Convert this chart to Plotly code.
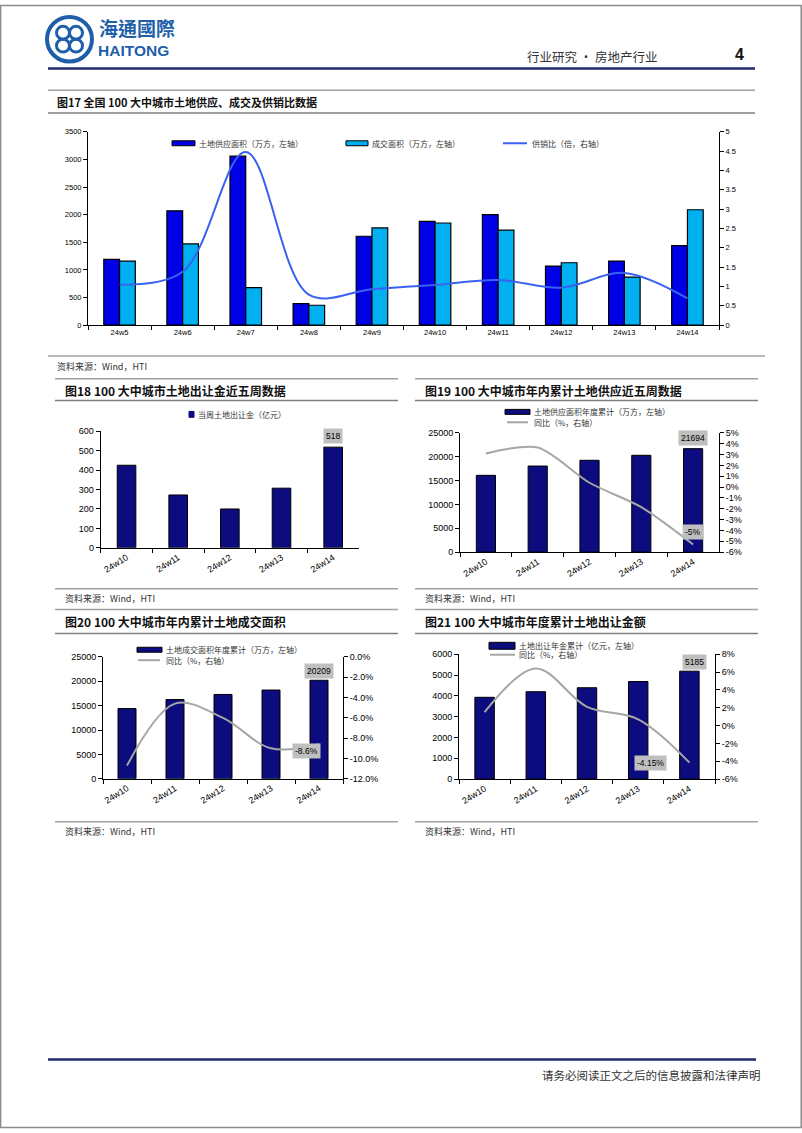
import plotly.graph_objects as go

W, H = 802, 1133
def px(x): return x / W
def py(y): return 1 - y / H

# ---------------- data ----------------
weeks17 = ["24w5", "24w6", "24w7", "24w8", "24w9", "24w10", "24w11", "24w12", "24w13", "24w14"]
supply17 = [1190, 2070, 3060, 390, 1610, 1880, 2000, 1070, 1160, 1440]
deal17 = [1160, 1470, 680, 360, 1760, 1850, 1720, 1130, 870, 2090]
ratio17 = [1.05, 1.38, 4.48, 0.79, 0.93, 1.04, 1.17, 0.97, 1.35, 0.69]

weeks5 = ["24w10", "24w11", "24w12", "24w13", "24w14"]
premium18 = [425, 272, 200, 307, 518]
supply_cum19 = [16100, 18050, 19250, 20300, 21694]
supply_yoy19 = [3.1, 3.65, 0.4, -1.85, -5.3]
deal_cum20 = [14400, 16250, 17300, 18200, 20209]
deal_yoy20 = [-10.7, -4.6, -6.0, -9.0, -8.6]
premium_cum21 = [3930, 4200, 4390, 4690, 5185]
premium_yoy21 = [1.5, 6.4, 2.1, 0.7, -4.15]

# ---------------- styles ----------------
NAVY = "#0C0C7E"
BLUE = "#0000E6"
CYAN = "#00B0F0"
LBLUE = "#3A62F0"
GRAY = "#A6A6A6"
NUM = "Liberation Sans, Arial, sans-serif"
CJK = "Noto Sans CJK SC, sans-serif"

def xax(d0, d1, anchor, angle=0, size=8.5):
    return dict(domain=[px(d0), px(d1)], anchor=anchor, type="category",
                showline=True, linecolor="black", linewidth=1,
                ticks="outside", ticklen=4, tickcolor="black", tickson="boundaries",
                tickangle=angle, showgrid=False, zeroline=False, fixedrange=True,
                tickfont=dict(family=NUM, size=size, color="black"))

def pct_ticks(lo, hi, step, fmt):
    vals = list(range(lo, hi + 1, step))
    return vals, [(fmt % v) for v in vals]

def yax(y0, y1, anchor, rng, dtick, side="left", overlaying=None, ticks=None, size=8.5):
    d = dict(anchor=anchor, range=rng, side=side,
             showline=True, linecolor="black", linewidth=1,
             ticks="outside", ticklen=4, tickcolor="black",
             showgrid=False, zeroline=False, fixedrange=True,
             tickfont=dict(family=NUM, size=size, color="black"))
    if ticks:
        d["tickmode"] = "array"
        d["tickvals"], d["ticktext"] = ticks
    else:
        d["dtick"] = dtick
        d["tickformat"] = "~r"
    if overlaying:
        d["overlaying"] = overlaying
    else:
        d["domain"] = [py(y0), py(y1)]
    return d

fig = go.Figure()

# ---------- Fig 17 ----------
fig.add_trace(go.Bar(x=weeks17, y=supply17, xaxis="x", yaxis="y", width=0.25, offset=-0.25,
                     marker=dict(color=BLUE, line=dict(color="black", width=1.2))))
fig.add_trace(go.Bar(x=weeks17, y=deal17, xaxis="x", yaxis="y", width=0.25, offset=0,
                     marker=dict(color=CYAN, line=dict(color="black", width=1.2))))
fig.add_trace(go.Scatter(x=weeks17, y=ratio17, xaxis="x", yaxis="y2", mode="lines",
                         line=dict(color=LBLUE, width=2, shape="spline", smoothing=1.0)))

# ---------- Fig 18 ----------
fig.add_trace(go.Bar(x=weeks5, y=premium18, xaxis="x2", yaxis="y3", width=0.36, offset=-0.18,
                     marker=dict(color=NAVY, line=dict(color="black", width=1))))

# ---------- Fig 19 ----------
fig.add_trace(go.Bar(x=weeks5, y=supply_cum19, xaxis="x3", yaxis="y4", width=0.37, offset=-0.185,
                     marker=dict(color=NAVY, line=dict(color="black", width=1))))
fig.add_trace(go.Scatter(x=weeks5, y=supply_yoy19, xaxis="x3", yaxis="y5", mode="lines",
                         line=dict(color=GRAY, width=2, shape="spline", smoothing=0.8)))

# ---------- Fig 20 ----------
fig.add_trace(go.Bar(x=weeks5, y=deal_cum20, xaxis="x4", yaxis="y6", width=0.375, offset=-0.1875,
                     marker=dict(color=NAVY, line=dict(color="black", width=1))))
fig.add_trace(go.Scatter(x=weeks5, y=deal_yoy20, xaxis="x4", yaxis="y7", mode="lines",
                         line=dict(color=GRAY, width=2, shape="spline", smoothing=1.0)))

# ---------- Fig 21 ----------
fig.add_trace(go.Bar(x=weeks5, y=premium_cum21, xaxis="x5", yaxis="y8", width=0.38, offset=-0.19,
                     marker=dict(color=NAVY, line=dict(color="black", width=1))))
fig.add_trace(go.Scatter(x=weeks5, y=premium_yoy21, xaxis="x5", yaxis="y9", mode="lines",
                         line=dict(color=GRAY, width=2, shape="spline", smoothing=1.0)))

layout = dict(
    width=W, height=H, margin=dict(l=0, r=0, t=0, b=0),
    paper_bgcolor="white", plot_bgcolor="white",
    barmode="overlay", showlegend=False,
    xaxis=xax(88, 719, "y", 0, 7.5),
    yaxis=yax(323, 128, "x", [0, 3500], 500, size=7.5),
    yaxis2=yax(0, 0, "x", [0, 5], 0.5, side="right", overlaying="y", size=7.5),
    xaxis2=xax(100.7, 359, "y3", -32, 9),
    yaxis3=yax(547.7, 430, "x2", [0, 600], 100, size=9),
    xaxis3=xax(460, 719, "y4", -32, 9),
    yaxis4=yax(552, 431.7, "x3", [0, 25000], 5000, size=9),
    yaxis5=yax(0, 0, "x3", [-6, 5], 1, side="right", overlaying="y4",
               ticks=pct_ticks(-6, 5, 1, "%d%%"), size=9),
    xaxis4=xax(103, 343, "y6", -32, 9),
    yaxis6=yax(780.7, 657.7, "x4", [0, 25000], 5000, size=9),
    yaxis7=yax(0, 0, "x4", [-12, 0], 2, side="right", overlaying="y6",
               ticks=pct_ticks(-12, 0, 2, "%.1f%%"), size=9),
    xaxis5=xax(459, 715, "y8", -32, 9),
    yaxis8=yax(781, 655, "x5", [0, 6000], 1000, size=9),
    yaxis9=yax(0, 0, "x5", [-6, 8], 2, side="right", overlaying="y8",
               ticks=pct_ticks(-6, 8, 2, "%d%%"), size=9),
)
fig.update_layout(**layout)

shapes = []
def hline(y, x0, x1, color, w):
    shapes.append(dict(type="line", xref="paper", yref="paper", x0=px(x0), x1=px(x1),
                       y0=py(y), y1=py(y), line=dict(color=color, width=w)))
def rect(x0, y0, x1, y1, fill, line="black", lw=1):
    shapes.append(dict(type="rect", xref="paper", yref="paper", x0=px(x0), x1=px(x1),
                       y0=py(y1), y1=py(y0), fillcolor=fill, line=dict(color=line, width=lw)))

# page frame
shapes.append(dict(type="rect", xref="paper", yref="paper", x0=0.0008, x1=0.999, y0=0.0005, y1=0.9995,
                   line=dict(color="#8C8C8C", width=1.5), fillcolor="rgba(0,0,0,0)"))

# header / footer lines
hline(64, 48, 755, "#1F2A6E", 2.5)
hline(1064, 48, 756, "#1F2A6E", 2.5)
# separators
hline(86, 48, 755, "#A0A0A0", 1.5)
hline(109, 48, 755, "#808080", 1.5)
hline(354, 48, 765, "#A0A0A0", 1.5)
for (a, b) in [(55, 398), (415, 758)]:
    hline(377, a, b, "#A0A0A0", 1.5)
    hline(399, a, b, "#808080", 1.5)
    hline(589, a, b, "#A0A0A0", 1.5)
    hline(610, a, b, "#A0A0A0", 1.5)
    hline(634, a, b, "#808080", 1.5)
    hline(824, a, b, "#A0A0A0", 1.5)

# logo
LOGO = "#1F5FAA"
shapes.append(dict(type="circle", xref="paper", yref="paper", x0=px(47), x1=px(92), y0=py(57), y1=py(12),
                   line=dict(color=LOGO, width=4), fillcolor="white"))
for (cx, cy) in [(63, 28), (76, 28), (63, 41), (76, 41)]:
    shapes.append(dict(type="circle", xref="paper", yref="paper", x0=px(cx - 6.5), x1=px(cx + 6.5),
                       y0=py(cy + 6.5), y1=py(cy - 6.5), line=dict(color=LOGO, width=3)))

# legends
rect(172, 137, 195, 142, BLUE)
rect(346, 137, 368, 142, CYAN)
hline(139.5, 503, 527, LBLUE, 2)
rect(189, 410, 194, 416, NAVY, NAVY)
rect(505, 408, 530, 413, NAVY, "black")
hline(421, 507, 528, GRAY, 2)
rect(137, 648, 162, 653, NAVY, "black")
hline(661, 138, 160, GRAY, 2)
rect(489, 643, 515, 650, NAVY, "black")
hline(655.5, 490, 515, GRAY, 2)

fig.update_layout(shapes=shapes)

ann = []
def text(x, y, s, size=9, color="#222", family=CJK, anchor="left", bold=False):
    if bold:
        s = "<b>" + s + "</b>"
    ann.append(dict(x=px(x), y=py(y), xref="paper", yref="paper", text=s, showarrow=False,
                    xanchor=anchor, yanchor="middle", font=dict(size=size, color=color, family=family)))

# header
text(97, 23, "海通國際", 19, LOGO, "Noto Sans CJK TC, sans-serif", bold=True)
text(96, 46, "HAITONG", 15.5, LOGO, "Liberation Sans Narrow, Liberation Sans, sans-serif", bold=True)
text(525, 52, "行业研究 • 房地产行业", 12.5, "#333")
text(733, 50, "4", 16, "#111", NUM, bold=True)
text(763, 1080, "请务必阅读正文之后的信息披露和法律声明", 11.5, "#333", anchor="right")

# titles
text(55, 98, "图17 全国 100 大中城市土地供应、成交及供销比数据", 11, "#111", bold=True)
text(63, 389, "图18 100 大中城市土地出让金近五周数据", 12, "#111", bold=True)
text(423, 389, "图19 100 大中城市年内累计土地供应近五周数据", 12, "#111", bold=True)
text(63, 622, "图20 100 大中城市年内累计土地成交面积", 12, "#111", bold=True)
text(423, 622, "图21 100 大中城市年度累计土地出让金额", 12, "#111", bold=True)

# sources
text(55, 365, "资料来源：Wind，HTI", 9, "#333")
text(63, 599, "资料来源：Wind，HTI", 9, "#333")
text(423, 599, "资料来源：Wind，HTI", 9, "#333")
text(63, 834, "资料来源：Wind，HTI", 9, "#333")
text(423, 834, "资料来源：Wind，HTI", 9, "#333")

# legend texts
LG = 8
text(197, 139.5, "土地供应面积（万方，左轴）", LG, "#333")
text(370, 139.5, "成交面积（万方，左轴）", LG, "#333")
text(530, 139.5, "供销比（倍，右轴）", LG, "#333")
text(196, 413, "当周土地出让金（亿元）", LG, "#333")
text(532, 410.5, "土地供应面积年度累计（万方，左轴）", LG, "#333")
text(532, 421, "同比（%，右轴）", LG, "#333")
text(164, 650.5, "土地成交面积年度累计（万方，左轴）", LG, "#333")
text(164, 661, "同比（%，右轴）", LG, "#333")
text(517, 646.5, "土地出让年金累计（亿元，左轴）", LG, "#333")
text(517, 655.5, "同比（%，右轴）", LG, "#333")

# data labels
def dlabel(xr, yr, x, y, s, xshift=0, yshift=0, yanchor="bottom"):
    ann.append(dict(x=x, y=y, xref=xr, yref=yr, text=s, showarrow=False, xanchor="center",
                    yanchor=yanchor, xshift=xshift, yshift=yshift, bgcolor="#BFBFBF",
                    borderpad=2, font=dict(size=8.5, color="black", family=NUM)))

dlabel("x2", "y3", weeks5[4], premium18[4], str(premium18[4]), yshift=3)
dlabel("x3", "y4", weeks5[4], supply_cum19[4], str(supply_cum19[4]), yshift=3)
dlabel("x3", "y5", weeks5[4], supply_yoy19[4], "%d%%" % round(supply_yoy19[4]), yshift=13, yanchor="middle")
dlabel("x4", "y6", weeks5[4], deal_cum20[4], str(deal_cum20[4]), yshift=1)
dlabel("x4", "y7", weeks5[4], deal_yoy20[4], "%.1f%%" % deal_yoy20[4], xshift=-13, yshift=-7, yanchor="middle")
dlabel("x5", "y8", weeks5[4], premium_cum21[4], str(premium_cum21[4]), xshift=5, yshift=1)
dlabel("x5", "y9", weeks5[4], premium_yoy21[4], "%.2f%%" % premium_yoy21[4], xshift=-39, yanchor="middle")

fig.update_layout(annotations=ann)

fig.write_html("out.html",
               config={"displayModeBar": False},
               post_script="document.body.style.margin='0px';"
                           "document.documentElement.style.overflow='hidden';")
